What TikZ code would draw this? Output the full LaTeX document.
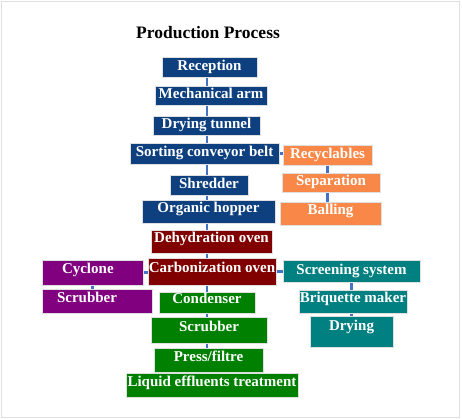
\documentclass[tikz,border=0pt]{standalone}
\usepackage{fontspec}
\setmainfont{Liberation Serif}
\usetikzlibrary{backgrounds}

\definecolor{procblue}{RGB}{14,64,128}
\definecolor{procorange}{RGB}{249,136,72}
\definecolor{procred}{RGB}{128,0,0}
\definecolor{procpurple}{RGB}{128,0,128}
\definecolor{procgreen}{RGB}{0,128,0}
\definecolor{procteal}{RGB}{0,128,128}
\definecolor{linkblue}{RGB}{68,114,196}

\tikzset{
    stage/.style={draw=gray!25, line width=.6pt, text=white, inner sep=0pt,
        font=\fontsize{15}{17}\selectfont\bfseries, text height=10.5pt, text depth=3.5pt},
    raised/.style={text depth=8pt},
    link/.style={line width=2.5pt, draw=linkblue},
}

\begin{document}
\begin{tikzpicture}[x=1pt, y=-1pt]
\useasboundingbox (0,0) rectangle (462,419);
\draw[gray!25, line width=1pt] (1.5,1.5) rectangle (459.5,417.5);

\node (title) at (208,33){\fontsize{17.5}{20}\selectfont\bfseries Production Process};

\coordinate (spine) at (207,0);

% main line
\node (rec) at (209.5,67)[stage, fill=procblue, minimum width=95pt, minimum height=20pt]{Reception};
\node (arm) at (211,95.5)[stage, fill=procblue, minimum width=112pt, minimum height=19pt]{Mechanical arm};
\node (tun) at (206.5,125.5)[stage, fill=procblue, minimum width=107pt, minimum height=19pt]{Drying tunnel};
\node (sort) at (204.5,153.5)[stage, fill=procblue, minimum width=149pt, minimum height=21pt]{Sorting conveyor belt};
\node (shred) at (209,185)[stage, fill=procblue, minimum width=78pt, minimum height=20pt]{Shredder};
\node (hop) at (208.5,211.5)[stage, raised, fill=procblue, minimum width=133pt, minimum height=23pt]{Organic hopper};
\node (dehy) at (211.5,241.5)[stage, raised, fill=procred, minimum width=121pt, minimum height=23pt]{Dehydration oven};
\node (carb) at (212,271.5)[stage, raised, fill=procred, minimum width=128pt, minimum height=27pt]{Carbonization oven};
\node (cond) at (207,302.5)[stage, raised, fill=procgreen, minimum width=96pt, minimum height=21pt]{Condenser};
\node (scrg) at (209,330)[stage, raised, fill=procgreen, minimum width=116pt, minimum height=26pt]{Scrubber};
\node (press) at (208.5,360)[stage, raised, fill=procgreen, minimum width=109pt, minimum height=24pt]{Press/filtre};
\node (liq) at (212,385)[stage, raised, fill=procgreen, minimum width=172pt, minimum height=24pt]{Liquid effluents treatment};

% recyclables
\node (recy) at (327.5,155)[stage, fill=procorange, minimum width=89pt, minimum height=20pt]{Recyclables};
\node (sep) at (331,182.5)[stage, fill=procorange, minimum width=98pt, minimum height=19pt]{Separation};
\node (ball) at (330.5,213.5)[stage, raised, fill=procorange, minimum width=101pt, minimum height=23pt]{Balling};

% gases
\node (cyc) at (92.5,272.5)[stage, raised, fill=procpurple, minimum width=101pt, minimum height=25pt, text width=61pt, align=left]{Cyclone};
\node (scrp) at (97,301)[stage, raised, fill=procpurple, minimum width=110pt, minimum height=24pt, text width=80pt, align=left]{Scrubber};

% char
\node (scr) at (351.5,271)[stage, fill=procteal, minimum width=137pt, minimum height=22pt]{Screening system};
\node (briq) at (353,301.5)[stage, raised, fill=procteal, minimum width=108pt, minimum height=23pt]{Briquette maker};
\node (dry) at (351.5,331.5)[stage, text depth=12pt, fill=procteal, minimum width=83pt, minimum height=31pt]{Drying};

\begin{scope}[on background layer]
\draw[link] (rec.south -| spine)--(liq.north -| spine);
\draw[link] (sort.east)--(sort.east -| recy.west);
\draw[link] (recy.south)--(recy.south |- ball.north);
\draw[link] (cyc.east)--(cyc.east -| carb.west);
\draw[link] (cyc.south)--(cyc.south |- scrp.north);
\draw[link] (carb.east)--(carb.east -| scr.west);
\draw[link] (scr.south)--(scr.south |- dry.north);
\end{scope}
\end{tikzpicture}
\end{document}
